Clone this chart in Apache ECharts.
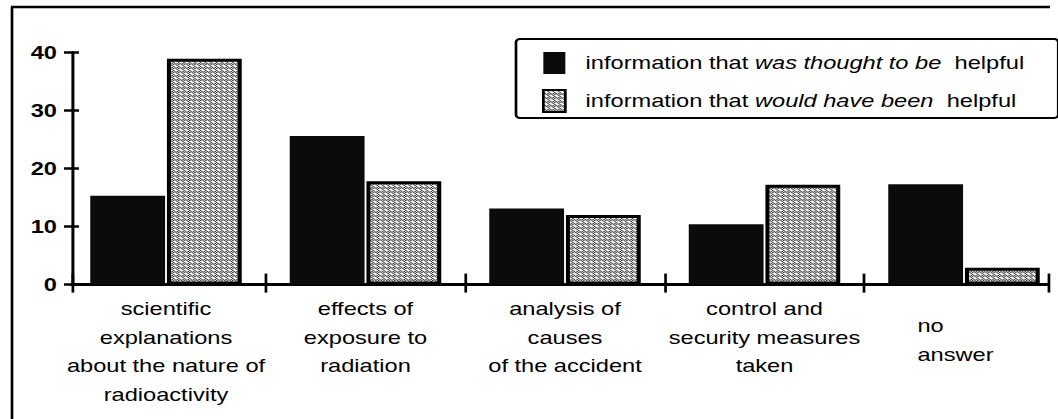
<!DOCTYPE html>
<html>
<head>
<meta charset="utf-8">
<script src="https://cdn.jsdelivr.net/npm/echarts@6/dist/echarts.min.js"></script>
<style>
html,body{margin:0;padding:0;background:#fff;overflow:hidden;width:1058px;height:419px;position:relative;}
#chart{position:absolute;left:0;top:0;transform-origin:0 0;}
</style>
</head>
<body>
<div id="chart"></div>
<script>
// ---- data ----
const categories = [
  'scientific\nexplanations\nabout the nature of\nradioactivity',
  'effects of\nexposure to\nradiation',
  'analysis of\ncauses\nof the accident',
  'control and\nsecurity measures\ntaken',
  'no\nanswer'
];
const seriesNames = [
  'information that was thought to be helpful',
  'information that would have been helpful'
];
const legendParts = [
  ['information that ', 'was thought to be', '  helpful'],
  ['information that ', 'would have been', '  helpful']
];
const thoughtHelpful = [15.3, 25.6, 13.1, 10.4, 17.3];
const wouldHaveBeenHelpful = [38.9, 17.8, 12.0, 17.2, 2.9];
const yMin = 0, yMax = 40, yStep = 10;

// ---- layout (horizontal stretch of the original scan) ----
const S = 1.35;
const W = 800, H = 419;           // drawing is a bit wider than the visible window
const X = v => v / S;
const FONT = "'Liberation Sans', Arial, Helvetica, sans-serif";
const FS = 17.5;

const dom = document.getElementById('chart');
dom.style.width = W + 'px';
dom.style.height = H + 'px';
dom.style.transform = 'scaleX(' + S + ')';

// dotted fill pattern
const pc = document.createElement('canvas');
pc.width = 4; pc.height = 4;
const pctx = pc.getContext('2d');
pctx.fillStyle = '#f2f2f2';
pctx.fillRect(0, 0, 4, 4);
pctx.fillStyle = '#2a2a2a';
[[0,0],[2,0],[1,1],[3,1],[0,2],[2,2],[1,3],[3,3]].forEach(function (p, k) {
  if (k % 3 !== 2) pctx.fillRect(p[0], p[1], 1, 1);
});
const pattern = { image: pc, repeat: 'repeat' };

const chart = echarts.init(dom, null, { renderer: 'svg', width: W, height: H });

const plotTop = 52.3, plotH = 232.3;
const barGrid = { left: X(66.25), width: X(997.5), top: plotTop, height: plotH };
const frameGrid = { left: X(72), width: X(1048 - 72), top: plotTop, height: plotH };
const tickStyle = { color: '#000', width: 2 };
const txt = { fontSize: FS, fontFamily: FONT, color: '#000' };

const option = {
  backgroundColor: '#fff',
  textStyle: { fontFamily: FONT },
  animation: false,
  grid: [barGrid, Object.assign({}, barGrid), frameGrid, Object.assign({}, frameGrid)],
  legend: {
    left: X(516), top: 39,
    orient: 'vertical',
    icon: 'rect',
    itemWidth: X(22), itemHeight: 22,
    itemGap: 15,
    padding: [13, X(34), 5, X(26)],
    borderColor: '#000', borderWidth: 2, borderRadius: 3,
    data: seriesNames,
    formatter: function (name) {
      const p = legendParts[seriesNames.indexOf(name)];
      return '{g| }{r|' + p[0] + '}{i|' + p[1] + '}{r|' + p[2] + '}';
    },
    textStyle: {
      color: '#000', fontSize: FS, fontFamily: FONT,
      rich: {
        g: { width: 10 },
        r: Object.assign({}, txt),
        i: Object.assign({ fontStyle: 'italic' }, txt)
      }
    }
  },
  xAxis: [
    {
      gridIndex: 0, type: 'category', data: categories,
      axisLine: { show: false },
      axisTick: { show: true, length: 8, lineStyle: tickStyle, interval: function (i) { return i !== 0; } },
      axisLabel: {
        interval: 0, margin: 10, color: '#000', fontSize: FS, fontFamily: FONT, lineHeight: 28.5,
        formatter: function (v, i) {
          if (i === 4) {
            const parts = v.split('\n');
            return '{s| }\n{a|' + parts[0] + '}\n{a|' + parts[1] + '}';
          }
          return v;
        },
        rich: {
          s: Object.assign({ lineHeight: 17, width: 56 }, { fontSize: 10, fontFamily: FONT, color: '#000' }),
          a: Object.assign({ width: 56, align: 'left', padding: [0, 13, 0, 0], lineHeight: 28.5 }, txt)
        }
      },
      splitLine: { show: false }
    },
    {
      gridIndex: 1, type: 'category', data: categories,
      axisLine: { show: false },
      axisTick: { show: true, inside: true, length: 11, lineStyle: tickStyle, interval: function (i) { return i !== 0; } },
      axisLabel: { show: false },
      splitLine: { show: false }
    },
    {
      gridIndex: 2, type: 'category', data: [''],
      axisLine: { show: true, lineStyle: { color: '#000', width: 3 } },
      axisTick: { show: true, length: 8, lineStyle: tickStyle },
      axisLabel: { show: false },
      splitLine: { show: false }
    },
    {
      gridIndex: 3, type: 'category', data: [''],
      axisLine: { show: false },
      axisTick: { show: true, inside: true, length: 11, lineStyle: tickStyle },
      axisLabel: { show: false },
      splitLine: { show: false }
    }
  ],
  yAxis: [
    { gridIndex: 0, type: 'value', min: yMin, max: yMax, interval: yStep, show: false },
    { gridIndex: 1, type: 'value', min: yMin, max: yMax, interval: yStep, show: false },
    {
      gridIndex: 2, type: 'value', min: yMin, max: yMax, interval: yStep,
      axisLine: { show: true, lineStyle: { color: '#000', width: X(3) } },
      axisTick: { show: true, length: X(8), lineStyle: { color: '#000', width: 2.5 } },
      axisLabel: { margin: X(15), color: '#000', fontSize: FS, fontWeight: 'bold', fontFamily: FONT },
      splitLine: { show: false }
    },
    {
      gridIndex: 3, type: 'value', min: yMin, max: yMax, interval: yStep,
      axisLine: { show: false },
      axisTick: { show: true, inside: true, length: X(7), lineStyle: { color: '#000', width: 2.5 } },
      axisLabel: { show: false },
      splitLine: { show: false }
    }
  ],
  series: [
    {
      name: seriesNames[0], type: 'bar', xAxisIndex: 0, yAxisIndex: 0,
      data: thoughtHelpful,
      barWidth: '37.5%', barGap: '2.5%',
      itemStyle: { color: '#0b0b0b' },
      z: 3
    },
    {
      name: seriesNames[1], type: 'bar', xAxisIndex: 0, yAxisIndex: 0,
      data: wouldHaveBeenHelpful,
      barWidth: '37.5%', barGap: '2.5%',
      itemStyle: { color: pattern, borderColor: '#000', borderWidth: 3 },
      z: 3
    }
  ],
  graphic: [
    { type: 'line', shape: { x1: X(12), y1: 7, x2: X(12), y2: 419 }, style: { stroke: '#000', lineWidth: 2 } },
    { type: 'line', shape: { x1: X(11), y1: 7, x2: X(1050), y2: 7 }, style: { stroke: '#000', lineWidth: 2.5 } }
  ]
};
chart.setOption(option);
</script>
</body>
</html>
